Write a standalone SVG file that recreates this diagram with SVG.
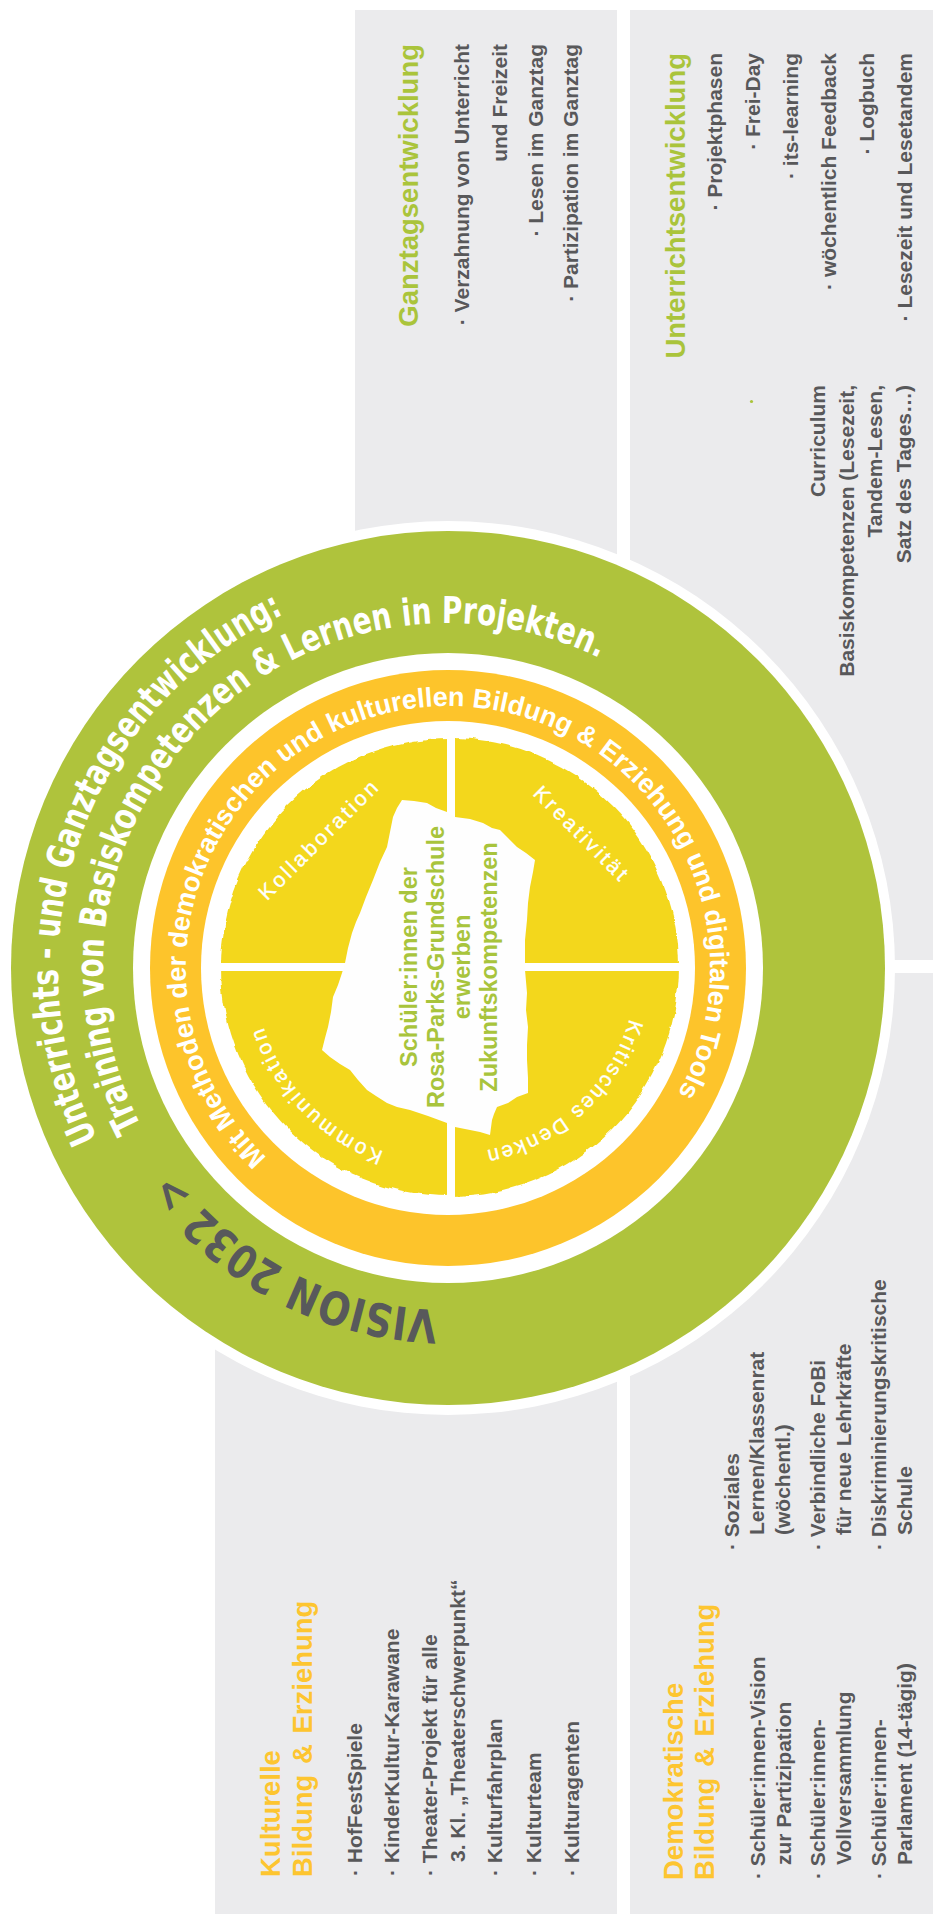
<svg xmlns="http://www.w3.org/2000/svg" width="933" height="1914" viewBox="0 0 933 1914">
<style>
.panel{fill:#ebebed}
.t{font-family:"Liberation Sans",Arial,sans-serif;font-weight:bold;font-size:21px;fill:#58585a}
.tg{font-family:"Liberation Sans",Arial,sans-serif;font-weight:bold;font-size:27.5px;fill:#aac43b}
.to{font-family:"Liberation Sans",Arial,sans-serif;font-weight:bold;font-size:27.5px;fill:#fdc530}
.ctr{font-family:"Liberation Sans",Arial,sans-serif;font-weight:bold;font-size:23.5px;fill:#a8c43c}
.q{font-family:"Liberation Sans",Arial,sans-serif;font-size:21px;fill:#ffffff;stroke:#ffffff;stroke-width:0.35px}
.ql{font-family:"Liberation Sans",Arial,sans-serif;font-size:21px;fill:#ffffff;stroke:#ffffff;stroke-width:0.35px;letter-spacing:3px}
.ring{font-family:"DejaVu Sans",sans-serif;font-weight:bold;font-size:37px;fill:#ffffff}
.vis{font-family:"DejaVu Sans",sans-serif;font-weight:bold;font-size:46px;fill:#58595b}
.or{font-family:"Liberation Sans",Arial,sans-serif;font-weight:bold;font-size:27px;fill:#ffffff}
</style>
<defs>
<path id="pV" d="M 448 1310 A 342 342 0 1 1 448 626 A 342 342 0 1 1 448 1310"/>
<path id="pG1" d="M 448 1358 A 390 390 0 1 1 448 578 A 390 390 0 1 1 448 1358"/>
<path id="pG2" d="M 448 1313 A 345 345 0 1 1 448 623 A 345 345 0 1 1 448 1313"/>
<path id="pO" d="M 448 1230 A 262 262 0 1 1 448 706 A 262 262 0 1 1 448 1230"/>
<path id="pK1" d="M 450 1154 A 187 187 0 1 1 450 780 A 187 187 0 1 1 450 1154"/>
<path id="pK2" d="M 450 1163 A 196 196 0 1 1 450 771 A 196 196 0 1 1 450 1163"/>
<filter id="rough" x="-5%" y="-5%" width="110%" height="110%">
<feTurbulence type="fractalNoise" baseFrequency="0.06" numOctaves="2" seed="3" result="n"/>
<feDisplacementMap in="SourceGraphic" in2="n" scale="6" xChannelSelector="R" yChannelSelector="G"/>
</filter>
</defs>
<rect width="933" height="1914" fill="#ffffff"/>

<g id="panel-ganztag">
<rect class="panel" x="355" y="10" width="262" height="950"/>
<g transform="translate(0,1914) rotate(-90)" text-anchor="end">
<text class="tg" x="1870" y="418">Ganztagsentwicklung</text>
<text class="t" x="1870" y="469">· Verzahnung von Unterricht</text>
<text class="t" x="1870" y="506.5">und Freizeit</text>
<text class="t" x="1870" y="542.5">· Lesen im Ganztag</text>
<text class="t" x="1870" y="578">· Partizipation im Ganztag</text>
</g>
</g>

<g id="panel-unterricht">
<rect class="panel" x="630" y="10" width="303" height="950"/>
<circle cx="751.5" cy="401.5" r="1.6" fill="#aac43b"/>
<g transform="translate(0,1914) rotate(-90)" text-anchor="end">
<text class="tg" x="1861" y="685">Unterrichtsentwicklung</text>
<text class="t" x="1861" y="722">· Projektphasen</text>
<text class="t" x="1861" y="760">· Frei-Day</text>
<text class="t" x="1861" y="798">· its-learning</text>
<text class="t" x="1861" y="836">· wöchentlich Feedback</text>
<text class="t" x="1861" y="874">· Logbuch</text>
<text class="t" x="1861" y="912">· Lesezeit und Lesetandem</text>
<text class="t" x="1529" y="825">Curriculum</text>
<text class="t" x="1529" y="853.5">Basiskompetenzen (Lesezeit,</text>
<text class="t" x="1529" y="882">Tandem-Lesen,</text>
<text class="t" x="1529" y="911">Satz des Tages…)</text>
</g>
</g>

<g id="panel-kultur">
<rect class="panel" x="215" y="973" width="402" height="941"/>
<g transform="translate(0,1914) rotate(-90)">
<text class="to" x="37" y="280">Kulturelle</text>
<text class="to" x="37" y="311.5" word-spacing="3">Bildung &amp; Erziehung</text>
<text class="t" x="38" y="362">· HofFestSpiele</text>
<text class="t" x="38" y="399">· KinderKultur-Karawane</text>
<text class="t" x="38" y="437">· Theater-Projekt für alle</text>
<text class="t" x="52" y="464.5">3. Kl. „Theaterschwerpunkt“</text>
<text class="t" x="38" y="502">· Kulturfahrplan</text>
<text class="t" x="38" y="540.5">· Kulturteam</text>
<text class="t" x="38" y="579">· Kulturagenten</text>
</g>
</g>

<g id="panel-demokratie">
<rect class="panel" x="630" y="973" width="303" height="941"/>
<g transform="translate(0,1914) rotate(-90)">
<text class="to" x="34" y="683">Demokratische</text>
<text class="to" x="34" y="713.5" word-spacing="3">Bildung &amp; Erziehung</text>
<text class="t" x="35" y="764.5">· Schüler:innen-Vision</text>
<text class="t" x="49" y="790.5">zur Partizipation</text>
<text class="t" x="35" y="825">· Schüler:innen-</text>
<text class="t" x="49" y="850.5">Vollversammlung</text>
<text class="t" x="35" y="886">· Schüler:innen-</text>
<text class="t" x="49" y="911.5">Parlament (14-tägig)</text>
<text class="t" x="364" y="739">· Soziales</text>
<text class="t" x="379" y="764">Lernen/Klassenrat</text>
<text class="t" x="379" y="790">(wöchentl.)</text>
<text class="t" x="364" y="825">· Verbindliche FoBi</text>
<text class="t" x="379" y="850.5">für neue Lehrkräfte</text>
<text class="t" x="364" y="886">· Diskriminierungskritische</text>
<text class="t" x="379" y="911.5">Schule</text>
</g>
</g>

<g id="vision-circle">
<circle cx="448" cy="968" r="447" fill="#ffffff"/>
<circle cx="448" cy="968" r="437" fill="#afc33c"/>
<circle cx="448" cy="968" r="315" fill="#ffffff"/>
<circle cx="448" cy="968" r="298" fill="#fdc42b"/>
<circle cx="448" cy="968" r="247" fill="#ffffff"/>
<text class="ring"><textPath href="#pG1" startOffset="435.6" textLength="619.4" lengthAdjust="spacingAndGlyphs">Unterrichts - und Ganztagsentwicklung:</textPath></text>
<text class="ring"><textPath href="#pG2" startOffset="376.9" textLength="863.5" lengthAdjust="spacingAndGlyphs">Training von Basiskompetenzen &amp; Lernen in Projekten.</textPath></text>
<text class="vis"><textPath href="#pV" startOffset="10.2" textLength="308.6" lengthAdjust="spacingAndGlyphs">VISION 2032 &gt;</textPath></text>
<text class="or"><textPath href="#pO" startOffset="199.8" textLength="1166" lengthAdjust="spacing">Mit Methoden der demokratischen und kulturellen Bildung &amp; Erziehung und digitalen Tools</textPath></text>
</g>

<g id="core">
<circle cx="450" cy="967" r="229" fill="#f3d71d" filter="url(#rough)"/>
<rect x="447" y="730" width="8" height="474" fill="#ffffff"/>
<rect x="212" y="963" width="478" height="8" fill="#ffffff"/>
<polygon fill="#fefefe" points="402,800 414,801 427,803 436,808 447,812 455,817 470,819 483,823 492,828 500,830 508,838 517,847 526,853 535,860 533,872 530,887 528,903 527,920 525,940 525,963 525,970 527,993 526,1010 528,1027 527,1045 527,1060 528,1078 528,1093 517,1097 508,1103 497,1107 494,1114 492,1120 490,1135 480,1132 470,1130 455,1127 447,1123 428,1116 410,1110 397,1107 387,1103 376,1096 367,1090 358,1080 350,1070 340,1064 330,1057 322,1050 325,1038 328,1027 331,1012 333,997 338,985 342,973 345,963 348,948 352,933 356,922 360,913 366,897 373,880 380,862 387,847 390,832 393,817 397,808"/>
<g transform="translate(0,1914) rotate(-90)" text-anchor="middle">
<text class="ctr" x="947" y="417">Schüler:innen der</text>
<text class="ctr" x="947" y="443.5">Rosa-Parks-Grundschule</text>
<text class="ctr" x="947" y="470">erwerben</text>
<text class="ctr" x="947" y="496.7">Zukunftskompetenzen</text>
</g>
<text class="ql" text-anchor="middle" transform="translate(320,840) rotate(-45)" x="0" y="6">Kollaboration</text>
<text class="ql" text-anchor="middle" transform="translate(581,835) rotate(45)" x="0" y="6">Kreativität</text>
<text class="q"><textPath href="#pK1" startOffset="933.4" textLength="204.3" lengthAdjust="spacing">Kritisches Denken</textPath></text>
<text class="q"><textPath href="#pK2" startOffset="67.4" textLength="178.9" lengthAdjust="spacing">Kommunikation</textPath></text>
</g>
</svg>
